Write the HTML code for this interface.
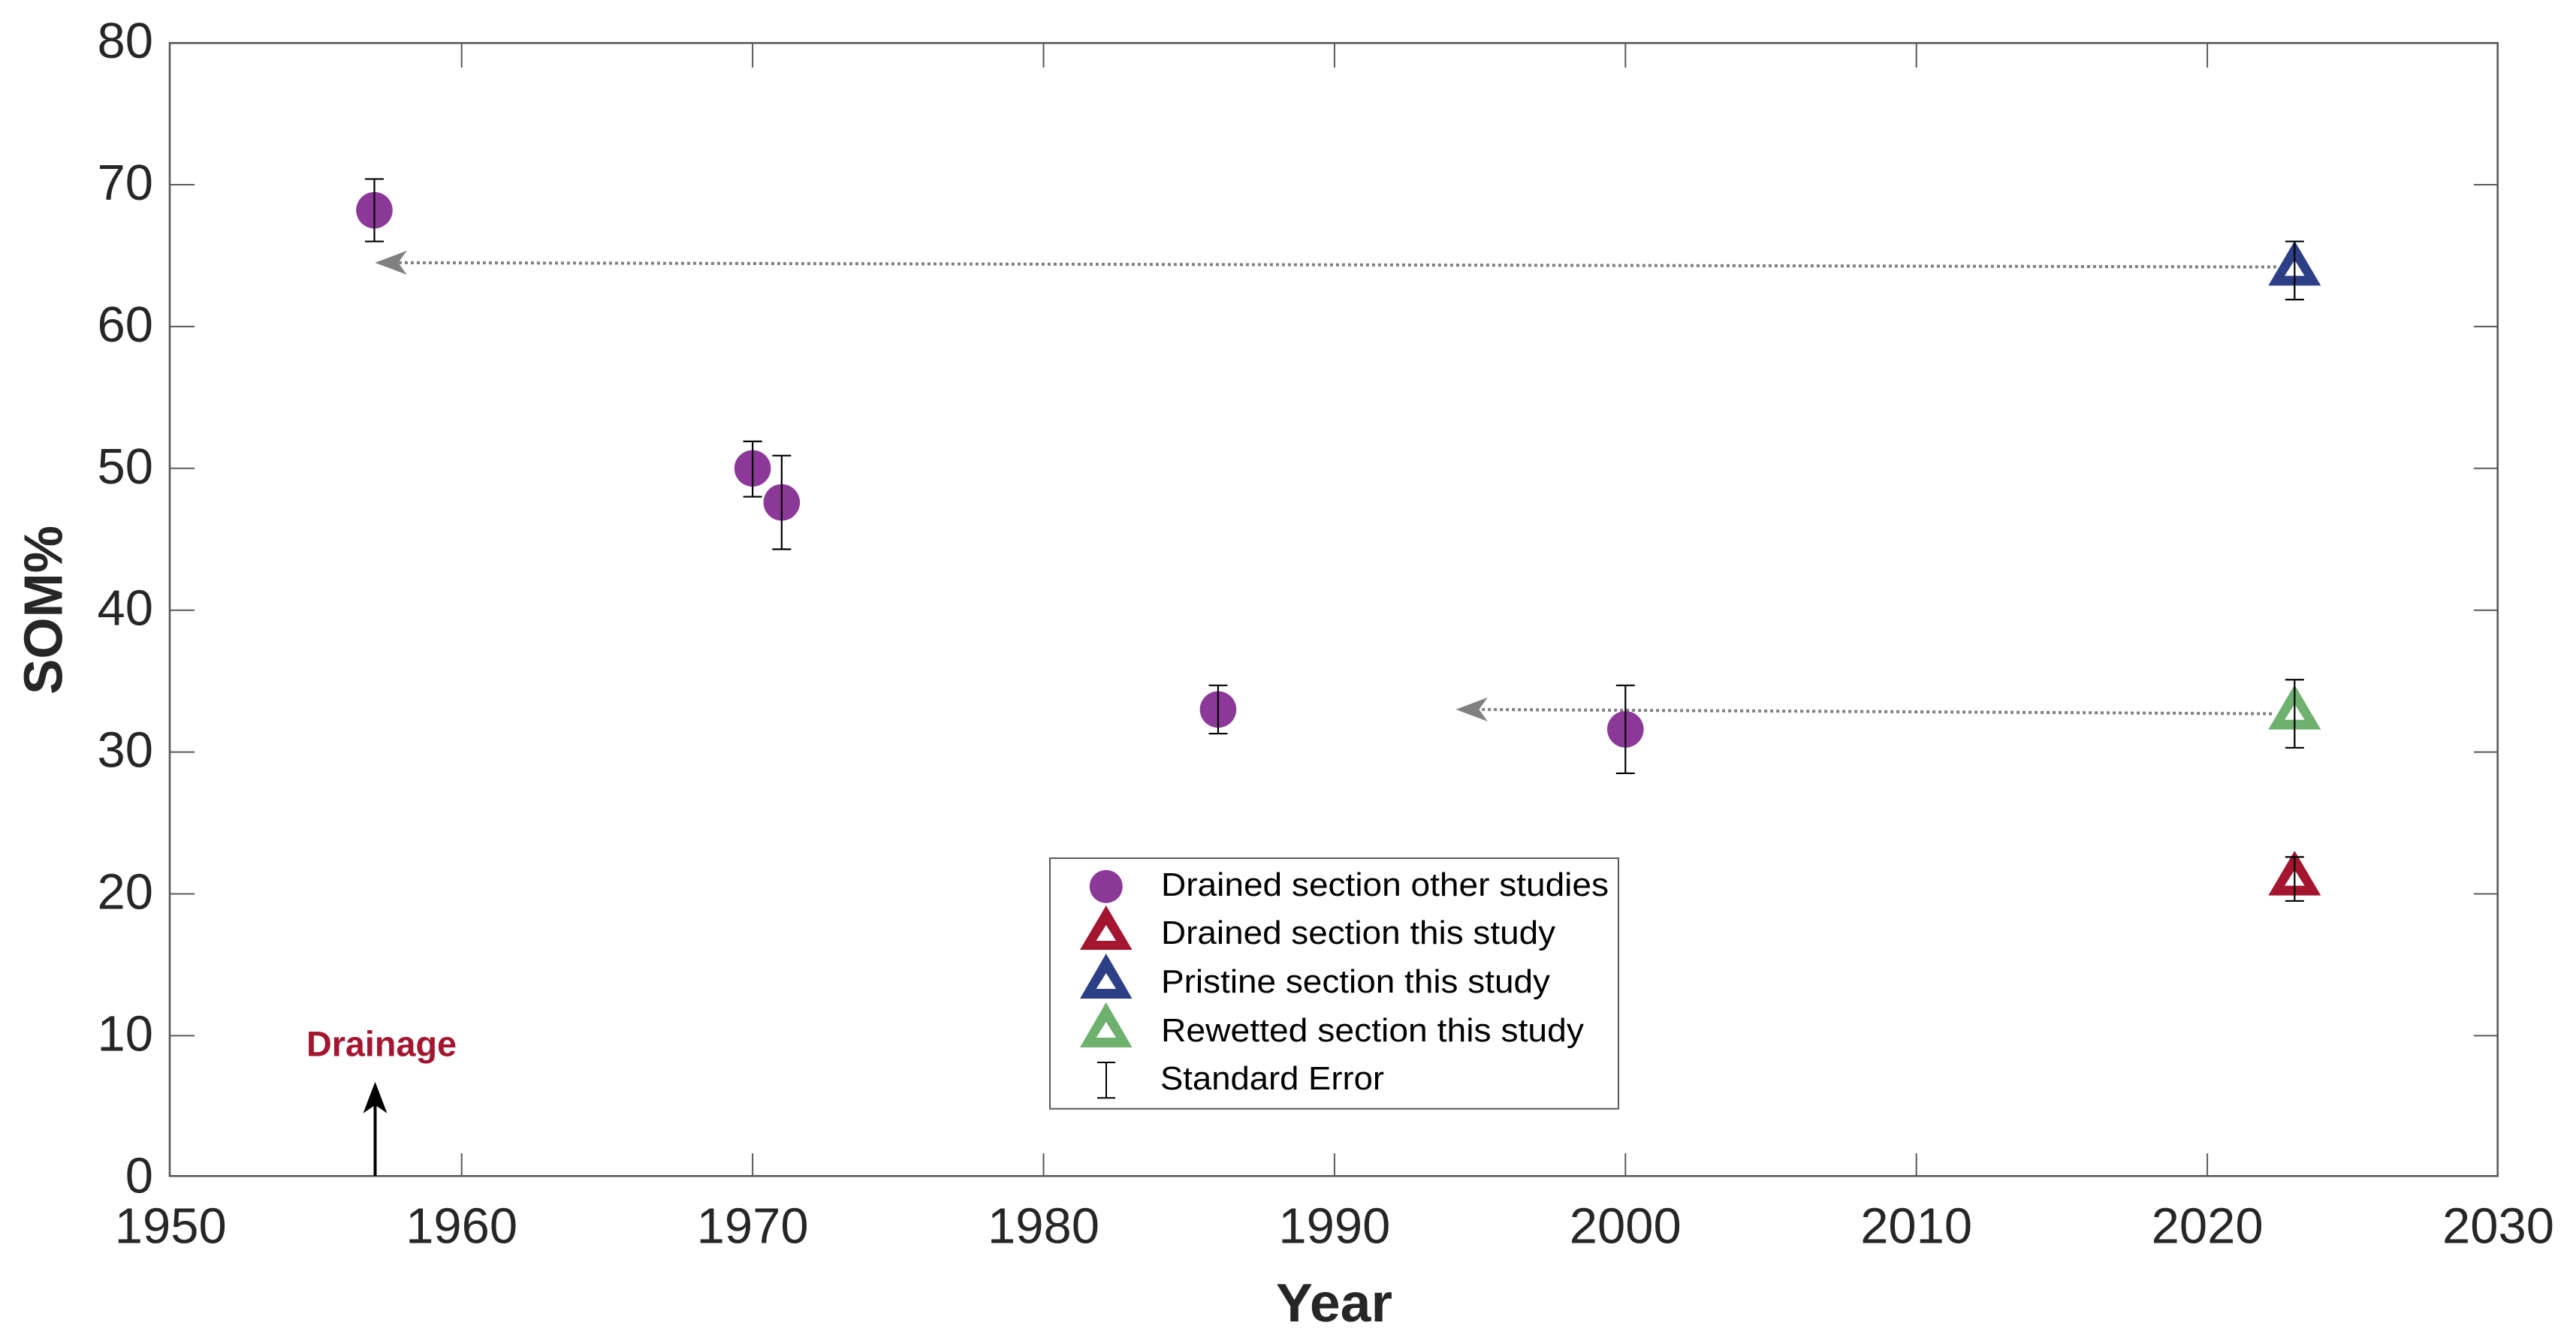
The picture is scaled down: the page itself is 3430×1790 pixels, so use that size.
<!DOCTYPE html>
<html lang="en">
<head>
<meta charset="utf-8">
<title>SOM% by Year</title>
<style>
html,body{margin:0;padding:0;background:#fff;width:3430px;height:1790px;overflow:hidden}
svg{display:block}
text{font-family:"Liberation Sans",sans-serif}
</style>
</head>
<body>
<svg id="chart" xmlns="http://www.w3.org/2000/svg" width="3430" height="1790" viewBox="0 0 3430 1790">
  <rect x="0" y="0" width="3430" height="1790" fill="#ffffff"/>
  <rect x="226" y="57.3" width="3099.7" height="1509" fill="none" stroke="#595959" stroke-width="2.6"/>
  <g id="ticks"></g>
  <g id="tick-labels"></g>
  <g id="arrows"></g>
  <g id="marks"></g>
  <text x="1699" y="1760" font-size="72" font-weight="700" fill="#262626" textLength="155" lengthAdjust="spacingAndGlyphs">Year</text>
  <text transform="translate(82.7 925) rotate(-90)" x="0" y="0" font-size="72" font-weight="700" fill="#262626" textLength="225" lengthAdjust="spacingAndGlyphs">SOM%</text>
  <text x="408" y="1406.7" font-size="47" font-weight="700" fill="#A4152F" textLength="200" lengthAdjust="spacingAndGlyphs">Drainage</text>
  <g>
    <line x1="499.5" y1="1566" x2="499.5" y2="1470" stroke="#000" stroke-width="4"/>
    <path d="M499.5 1440.7L515.5 1482.7L499.5 1471.7L483.5 1482.7Z" fill="#000"/>
  </g>
  <g id="legend">
    <rect x="1398" y="1143" width="757" height="333.7" fill="#ffffff" stroke="#595959" stroke-width="2"/>
    <g>
      <circle cx="1472.8" cy="1180.7" r="22" fill="#8C3898"/>
      <text x="1546" y="1193" font-size="44" fill="#000" textLength="596" lengthAdjust="spacingAndGlyphs">Drained section other studies</text>
    </g>
    <g>
      <path fill-rule="evenodd" fill="#A4152F" d="M1472.8 1206L1507.5 1265H1438ZM1472.8 1232L1459.6 1253H1486Z"/>
      <text x="1546" y="1257" font-size="44" fill="#000" textLength="525" lengthAdjust="spacingAndGlyphs">Drained section this study</text>
    </g>
    <g>
      <path fill-rule="evenodd" fill="#2C3E85" d="M1472.8 1270L1507.5 1330H1438ZM1472.8 1296L1459.6 1317H1486Z"/>
      <text x="1546" y="1322" font-size="44" fill="#000" textLength="518" lengthAdjust="spacingAndGlyphs">Pristine section this study</text>
    </g>
    <g>
      <path fill-rule="evenodd" fill="#6EB06E" d="M1472.8 1335L1507.5 1395H1438ZM1472.8 1361L1459.6 1382H1486Z"/>
      <text x="1546" y="1387" font-size="44" fill="#000" textLength="563" lengthAdjust="spacingAndGlyphs">Rewetted section this study</text>
    </g>
    <g>
      <path d="M1461 1415H1485M1473 1415V1462.3M1461 1462.3H1485" fill="none" stroke="#000" stroke-width="2"/>
      <text x="1545" y="1451" font-size="44" fill="#000" textLength="298" lengthAdjust="spacingAndGlyphs">Standard Error</text>
    </g>
  </g>
</svg>
<script>
// Axis ticks
const xTickLabels = [1950, 1960, 1970, 1980, 1990, 2000, 2010, 2020, 2030];
const yTickLabels = [0, 10, 20, 30, 40, 50, 60, 70, 80];

// Drained section, other studies
const otherYears = [1957, 1970, 1971, 1986, 2000];
const otherSom = [68.2, 50.0, 47.6, 33.0, 31.6];
const otherUpper = [70.4, 51.9, 50.9, 34.7, 34.7];
const otherLower = [66.0, 48.0, 44.3, 31.3, 28.5];

// This study (all sampled in 2023)
const studySections = ['drained', 'pristine', 'rewetted'];
const studyYears = [2023, 2023, 2023];
const studySom = [21.0, 64.0, 32.7];
const studyUpper = [22.6, 66.0, 35.1];
const studyLower = [19.5, 61.9, 30.3];
const studyColors = ['#A4152F', '#2C3E85', '#6EB06E'];

// Dotted arrows, in data units
const arrowNames = ['pristine', 'rewetted'];
const arrowFromYear = [2022.37, 2022.22];
const arrowFromSom = [64.2, 32.7];
const arrowToYear = [1957.02, 1994.17];
const arrowToSom = [64.5, 33.0];

const NS = 'http://www.w3.org/2000/svg';
function xScale(v) { return 227.3 + (v - 1950) * 38.74; }
function yScale(v) { return 1568.3 - v * 18.89; }
function make(tag, parent, attrs) {
  const el = document.createElementNS(NS, tag);
  for (const k in attrs) el.setAttribute(k, attrs[k]);
  parent.appendChild(el);
  return el;
}
function errorBar(parent, x, up, low) {
  const d = 'M' + (x - 12.5) + ' ' + yScale(up) + 'H' + (x + 12.5) +
            'M' + x + ' ' + yScale(up) + 'V' + yScale(low) +
            'M' + (x - 12.5) + ' ' + yScale(low) + 'H' + (x + 12.5);
  return make('path', parent, { d: d, fill: 'none', stroke: '#000', 'stroke-width': 2.2 });
}

const ticksG = document.getElementById('ticks');
const labelsG = document.getElementById('tick-labels');
const arrowsG = document.getElementById('arrows');
const marksG = document.getElementById('marks');

xTickLabels.forEach(function (t) {
  const x = xScale(t);
  if (t > 1950 && t < 2030) {
    const b = make('line', ticksG, { x1: x, x2: x, y1: 1566.3, y2: 1536, stroke: '#595959', 'stroke-width': 2 });
    
    
    const u = make('line', ticksG, { x1: x, x2: x, y1: 57.3, y2: 90, stroke: '#595959', 'stroke-width': 2 });
    
    
  }
  const lab = make('text', labelsG, { x: x, y: 1655.7, 'text-anchor': 'middle', 'font-size': 67, fill: '#262626', textLength: 149, lengthAdjust: 'spacingAndGlyphs' });
  
  
  lab.textContent = t;
});

yTickLabels.forEach(function (t) {
  const y = yScale(t);
  if (t > 0 && t < 80) {
    const l = make('line', ticksG, { x1: 226, x2: 259, y1: y, y2: y, stroke: '#595959', 'stroke-width': 2 });
    
    
    const r = make('line', ticksG, { x1: 3325.7, x2: 3294, y1: y, y2: y, stroke: '#595959', 'stroke-width': 2 });
    
    
  }
  const lab = make('text', labelsG, { x: 204, y: y + 20, 'text-anchor': 'end', 'font-size': 67, fill: '#262626' });
  
  
  lab.textContent = t;
});

arrowNames.forEach(function (name, i) {
  const x1 = xScale(arrowFromYear[i]);
  const y1 = yScale(arrowFromSom[i]);
  const tx = xScale(arrowToYear[i]);
  const ty = yScale(arrowToSom[i]);
  const line = make('line', arrowsG, { x1: x1, y1: y1, x2: tx + 31, y2: ty, stroke: '#808080', 'stroke-width': 4, 'stroke-dasharray': '4 4' });
  
  
  const head = make('path', arrowsG, { d: 'M' + tx + ' ' + ty + 'L' + (tx + 42.5) + ' ' + (ty - 16) + 'L' + (tx + 31) + ' ' + ty + 'L' + (tx + 42.5) + ' ' + (ty + 16) + 'Z', fill: '#808080' });
  
  
});

otherYears.forEach(function (yr, i) {
  const x = xScale(yr);
  const c = make('circle', marksG, { cx: x, cy: yScale(otherSom[i]), r: 24.3, fill: '#8C3898' });
  
  
  const e = errorBar(marksG, x, otherUpper[i], otherLower[i]);
  
  
});

studySections.forEach(function (name, i) {
  const x = xScale(studyYears[i]);
  const y = yScale(studySom[i]);
  const d = 'M' + x + ' ' + (y - 38.5) + 'L' + (x + 35) + ' ' + (y + 21) + 'H' + (x - 35) + 'Z' +
            'M' + x + ' ' + (y - 13) + 'L' + (x - 13.3) + ' ' + (y + 8) + 'H' + (x + 13.3) + 'Z';
  const t = make('path', marksG, { d: d, 'fill-rule': 'evenodd', fill: studyColors[i] });
  
  
  const e = errorBar(marksG, x, studyUpper[i], studyLower[i]);
  
  
});
</script>
</body>
</html>
